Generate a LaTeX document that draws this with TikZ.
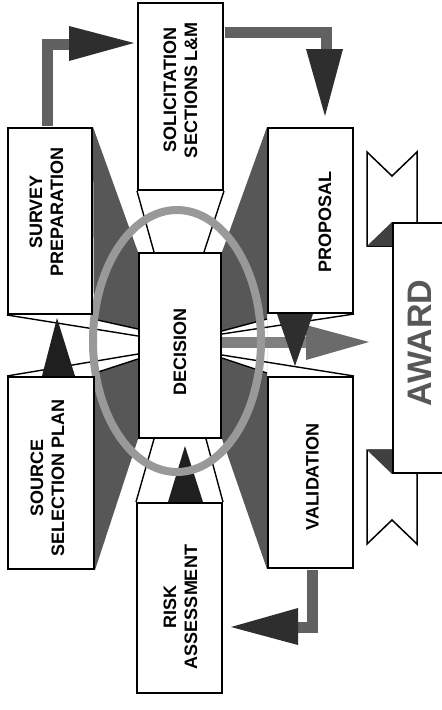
\documentclass[tikz,border=0pt]{standalone}
\usepackage{fontspec}
\setmainfont{Liberation Sans}
\usetikzlibrary{calc}
\pgfdeclarelayer{lzero}
\pgfdeclarelayer{lone}
\pgfdeclarelayer{ltwo}
\pgfsetlayers{lzero,lone,ltwo,main}
\begin{document}
\begin{tikzpicture}[x=1pt,y=-1pt,
  box/.style={draw=black, line width=2pt, fill=white, inner sep=0pt},
  lbl/.style={rotate=90, align=center, inner sep=0pt, font=\bfseries\fontsize{18}{21}\selectfont},
  fanline/.style={draw=black, line width=1.4pt},
  funnel/.style={fill=black!66},
  shaft/.style={draw=black!62, line width=11pt, line join=miter},
  head/.style={fill=black!82},
  ring/.style={draw=black!40, line width=8pt},
  tail/.style={draw=black, line width=1.5pt, fill=white, line join=miter}]
\useasboundingbox (0,0) rectangle (442,710);
\clip (0,0) rectangle (442,710);

% boxes
\node[box, minimum width=85pt, minimum height=187pt] (sol) at (180.5,96.5) {};
\node[box, minimum width=84pt, minimum height=186pt] (sp) at (50,221) {};
\node[box, minimum width=85pt, minimum height=185pt] (pr) at (310.5,220.5) {};
\node[box, minimum width=82pt, minimum height=185pt] (dec) at (180,345.5) {};
\node[box, minimum width=86pt, minimum height=192pt] (ssp) at (51,473) {};
\node[box, minimum width=85pt, minimum height=191pt] (val) at (310.5,472.5) {};
\node[box, minimum width=85pt, minimum height=190pt] (ra) at (179.5,598) {};
\node[box, minimum width=90pt, minimum height=250pt] (aw) at (438,348) {};

% labels
\node[lbl] (sol-t) at ($(sol.center)+(0,-6.5)$) {SOLICITATION\\SECTIONS L\&M};
\node[lbl] (sp-t) at ($(sp.center)+(-3.5,-9)$) {SURVEY\\PREPARATION};
\node[lbl] (pr-t) at ($(pr.center)+(14.5,1.5)$) {PROPOSAL};
\node[lbl] (dec-t) at ($(dec.center)+(0,6.5)$) {DECISION};
\node[lbl] (ssp-t) at ($(ssp.center)+(-3.5,5)$) {SOURCE\\SELECTION PLAN};
\node[lbl] (ra-t) at ($(ra.center)+(1,9)$) {RISK\\ASSESSMENT};
\node[lbl] (val-t) at ($(val.center)+(2,4.5)$) {VALIDATION};
\node[rotate=90, inner sep=0pt, text=black!66, font=\bfseries\fontsize{34}{34}\selectfont] (aw-t) at ($(aw.west)+(28,-5)$) {AWARD};

% funnels
\begin{pgfonlayer}{lzero}
\fill[white] (0,0) rectangle (442,710);
\fill[funnel] (sp.north east) -- (dec.north west) -- (dec.south west) -- (ssp.south east) -- cycle;
\fill[funnel] (pr.north west) -- (dec.north east) -- (dec.south east) -- (val.south west) -- cycle;
\end{pgfonlayer}

\begin{pgfonlayer}{lone}
% left fan
\fill[white] ($(sp.south east)+(0,4)$) -- ($(dec.west)+(0,-16.5)$) -- ($(dec.west)+(0,13.5)$) -- ($(ssp.north east)+(0,-3)$) -- cycle;
\draw[fanline] ($(sp.south east)+(0,4)$) -- ($(dec.west)+(0,-16.5)$);
\draw[fanline] (sp.south west) -- ($(dec.west)+(0,-9.5)$);
\draw[fanline] (ssp.north west) -- ($(dec.west)+(0,8.5)$);
\draw[fanline] ($(ssp.north east)+(0,-3)$) -- ($(dec.west)+(0,13.5)$);
% right fan
\fill[white] ($(pr.south west)+(0,5)$) -- ($(dec.east)+(0,-14.5)$) -- ($(dec.east)+(0,12.5)$) -- ($(val.north west)+(0,-3)$) -- cycle;
\draw[fanline] ($(pr.south west)+(0,5)$) -- ($(dec.east)+(0,-14.5)$);
\draw[fanline] (pr.south east) -- ($(dec.east)+(0,-11.5)$);
\draw[fanline] (val.north east) -- ($(dec.east)+(0,9.5)$);
\draw[fanline] ($(val.north west)+(0,-3)$) -- ($(dec.east)+(0,12.5)$);
% top and bottom links
\draw[fanline] (sol.south west) -- ($(dec.north west)+(16,0)$);
\draw[fanline] (sol.south east) -- ($(dec.north east)+(-18,0)$);
\draw[fanline] (ra.north west) -- ($(dec.south west)+(16,0)$);
\draw[fanline] (ra.north east) -- ($(dec.south east)+(-16,0)$);
% decision to award
\coordinate (awtip) at ($(aw.west)+(-23,-6)$);
\draw[shaft, draw=black!50] ($(dec.east)+(0,-3.5)$) -- ($(awtip)+(-60,0)$);
\fill[fill=black!58] (awtip) -- ++(-63,-17) -- ++(0,35) -- cycle;
% triangles
\fill[head] ($(pr.south)+(-33.5,0)$) -- ($(pr.south)+(2.5,0)$) -- ($(pr.south)+(-15.5,52)$) -- cycle;
\fill[head, fill=black!88] ($(ssp.north)+(-9,0)$) -- ($(ssp.north)+(24,0)$) -- ($(sp.south)+(7,3)$) -- cycle;
\fill[head, fill=black!88] ($(ra.north)+(-11.5,0)$) -- ($(ra.north)+(23.5,0)$) -- ($(dec.south)+(5,7)$) -- cycle;
\end{pgfonlayer}

\begin{pgfonlayer}{ltwo}
\draw[ring] ($(dec.center)+(-3,-4.5)$) ellipse [x radius=84pt, y radius=131pt];
% award ribbon tails
\draw[tail] ($(aw.north west)+(-25,-70)$) -- ($(aw.north west)+(0,-46)$) -- ($(aw.north west)+(25,-70)$) -- ($(aw.north west)+(25,24)$) -- ($(aw.north west)+(-25,24)$) -- cycle;
\fill[black!75] ($(aw.north west)+(-25,24)$) -- (aw.north west) -- ($(aw.north west)+(0,24)$) -- cycle;
\draw[tail] ($(aw.south west)+(-25,-24)$) -- ($(aw.south west)+(25,-24)$) -- ($(aw.south west)+(25,70)$) -- ($(aw.south west)+(0,46)$) -- ($(aw.south west)+(-25,70)$) -- cycle;
\fill[black!75] ($(aw.south west)+(-25,-24)$) -- ($(aw.south west)+(0,-24)$) -- (aw.south west) -- cycle;
\end{pgfonlayer}

% elbow connectors
\coordinate (t1) at ($(sol.north west)+(-3,41)$);
\draw[shaft] ($(sp.north)+(-3,-1)$) |- ($(t1)+(-62,1)$);
\fill[head] (t1) -- ++(-65,-17) -- ++(0,35) -- cycle;

\coordinate (t2) at ($(pr.north)+(14.5,-11)$);
\draw[shaft] ($(sol.north east)+(1,30)$) -| ($(t2)+(1,-64)$);
\fill[head] (t2) -- ++(-19,-67) -- ++(37,0) -- cycle;

\coordinate (t3) at ($(ra.east)+(8,29)$);
\draw[shaft] ($(val.south)+(1.5,1)$) |- ($(t3)+(64,0)$);
\fill[head] (t3) -- ++(67,-19) -- ++(0,37) -- cycle;
\end{tikzpicture}
\end{document}
